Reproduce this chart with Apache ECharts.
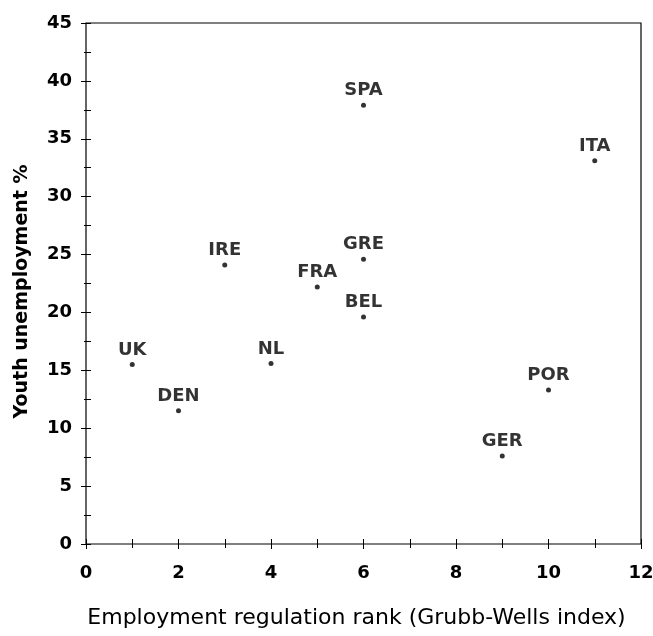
<!DOCTYPE html>
<html>
<head>
<meta charset="utf-8">
<script src="https://cdn.jsdelivr.net/npm/echarts@6/dist/echarts.min.js"></script>
<style>
  html, body { margin: 0; padding: 0; background: #fff; }
  #chart { width: 653px; height: 636px; }
</style>
</head>
<body>
<div id="chart"></div>
<script>
// country codes, regulation rank, youth unemployment %
var countries = ["UK", "DEN", "IRE", "NL", "FRA", "GRE", "BEL", "SPA", "GER", "POR", "ITA"];
var regRank = [1, 2, 3, 4, 5, 6, 6, 6, 9, 10, 11];
var youthUnemp = [15.5, 11.5, 24.1, 15.6, 22.2, 24.6, 19.6, 37.9, 7.6, 13.3, 33.1];

var xTicks = [0, 2, 4, 6, 8, 10, 12];
var yTicks = [0, 5, 10, 15, 20, 25, 30, 35, 40, 45];

var font = "'DejaVu Sans', sans-serif";
var half = 5; // ticks cross the frame: axis pulled inward by half a tick

var points = countries.map(function (c, i) {
  return { name: c, value: [regRank[i], youthUnemp[i]] };
});

var myChart = echarts.init(document.getElementById("chart"));

myChart.setOption({
  animation: false,
  backgroundColor: "#fff",
  grid: {
    left: 86, right: 12, top: 23, bottom: 92,
    outerBoundsMode: "none",
    show: true, borderColor: "#000", borderWidth: 1.2
  },
  xAxis: {
    type: "value",
    position: "bottom",
    offset: -half,
    min: xTicks[0],
    max: xTicks[xTicks.length - 1],
    interval: 2,
    splitLine: { show: false },
    axisLine: { show: false },
    axisTick: { show: true, length: half * 2, lineStyle: { color: "#000" } },
    minorTick: { show: true, splitNumber: 2, length: half + 4, lineStyle: { color: "#000" } },
    axisLabel: {
      margin: 20 + half,
      color: "#000",
      fontFamily: font,
      fontWeight: "bold",
      fontSize: 18
    },
    name: "Employment regulation rank (Grubb-Wells index)",
    nameLocation: "middle",
    nameGap: 63 + half,
    nameTextStyle: { color: "#000", fontFamily: font, fontSize: 22, padding: [0, 14, 0, 0] }
  },
  yAxis: {
    type: "value",
    position: "left",
    offset: -half,
    min: yTicks[0],
    max: yTicks[yTicks.length - 1],
    interval: 5,
    splitLine: { show: false },
    axisLine: { show: false },
    axisTick: { show: true, length: half * 2, lineStyle: { color: "#000" } },
    minorTick: { show: true, splitNumber: 2, length: half + 2, lineStyle: { color: "#000" } },
    axisLabel: {
      margin: 14 + half,
      color: "#000",
      fontFamily: font,
      fontWeight: "bold",
      fontSize: 18
    },
    name: "Youth unemployment %",
    nameLocation: "middle",
    nameGap: 54 + half,
    nameTextStyle: { color: "#000", fontFamily: font, fontWeight: "bold", fontSize: 19, padding: [0, 16, 0, 0] }
  },
  series: [
    {
      type: "scatter",
      symbol: "circle",
      symbolSize: 5,
      itemStyle: { color: "#000" },
      label: {
        show: true,
        position: "top",
        distance: 3,
        formatter: "{b}",
        color: "#000",
        fontFamily: font,
        fontWeight: "bold",
        fontSize: 18
      },
      emphasis: { disabled: true },
      data: points
    }
  ]
});
</script>
</body>
</html>
